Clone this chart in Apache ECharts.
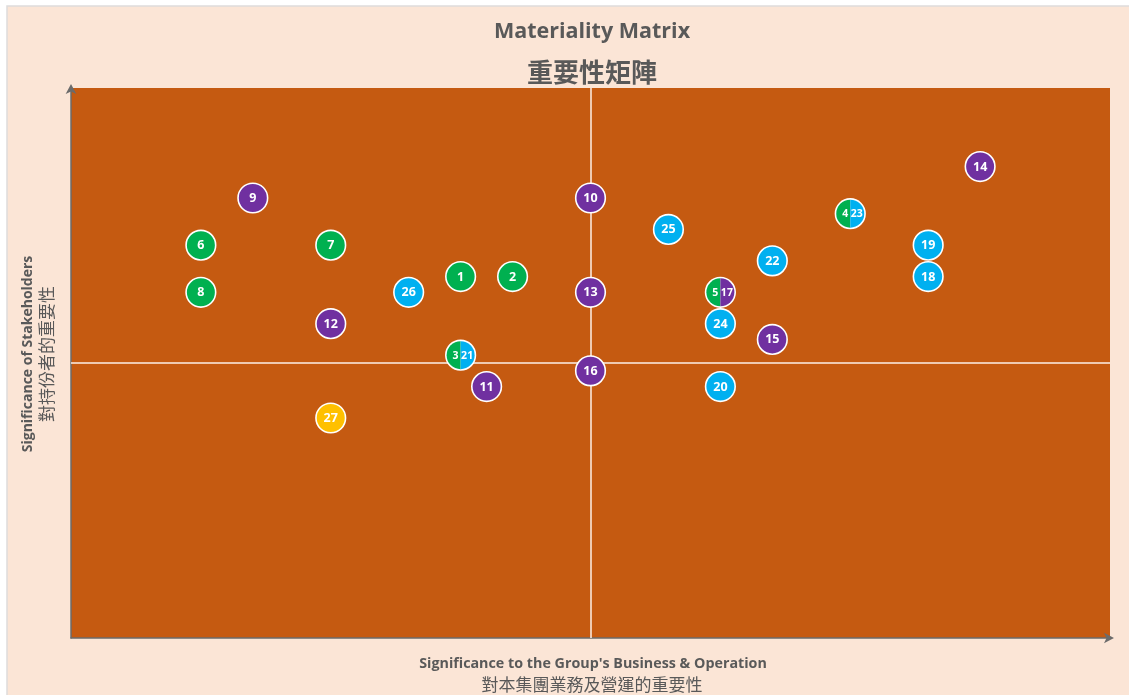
<!DOCTYPE html>
<html>
<head>
<meta charset="utf-8">
<script src="https://cdn.jsdelivr.net/npm/echarts@6/dist/echarts.min.js"></script>
<style>
html,body{margin:0;padding:0;background:#ffffff;}
#main{width:1129px;height:695px;}
</style>
</head>
<body>
<div id="main"></div>
<script>
// Topic labels (one or two topics per bubble)
const labels = ['9','6','7','8','12','27','26','1','2','3|21','11','10','13','16','25','5|17','24','20','22','15','4|23','19','18','14'];
// Significance to the Group's Business & Operation (x)
const xValues = [7,5,10,5,10,10,13,15,17,15,16,20,20,20,23,25,25,25,27,27,30,33,33,35];
// Significance of Stakeholders (y)
const yValues = [28,25,25,22,20,14,22,23,23,18,16,28,22,17,26,22,20,16,24,19,27,25,23,30];
// Category colour per topic (left|right for shared bubbles)
const categories = ['P','G','G','G','P','Y','B','G','G','G|B','P','P','P','P','B','G|P','B','B','B','P','G|B','B','B','P'];

const palette = {G:'#00b050', P:'#7030a0', B:'#00b0f0', Y:'#ffc000'};

const data = xValues.map((x,i)=>[x, yValues[i], labels[i], categories[i]]);

const R = 14.8;
function renderItem(params, api){
  const p = api.coord([api.value(0), api.value(1)]);
  const label = labels[params.dataIndex];
  const cat = categories[params.dataIndex];
  const children = [];
  if (cat.indexOf('|') < 0){
    children.push({type:'circle', shape:{cx:p[0],cy:p[1],r:R},
      style:{fill:palette[cat], stroke:'#ffffff', lineWidth:1.6}});
    children.push({type:'text', style:{x:p[0], y:p[1]+0.5, text:label, fill:'#ffffff',
      font:'bold 12.5px "Open Sans", sans-serif', align:'center', verticalAlign:'middle'}});
  } else {
    const cs = cat.split('|'), ls = label.split('|');
    children.push({type:'circle', shape:{cx:p[0],cy:p[1],r:R},
      style:{fill:'#ffffff', stroke:'#ffffff', lineWidth:1.6}});
    children.push({type:'sector', shape:{cx:p[0],cy:p[1],r0:0,r:R-0.8,startAngle:Math.PI/2,endAngle:Math.PI*3/2},
      style:{fill:palette[cs[0]]}});
    children.push({type:'sector', shape:{cx:p[0],cy:p[1],r0:0,r:R-0.8,startAngle:-Math.PI/2,endAngle:Math.PI/2},
      style:{fill:palette[cs[1]]}});
    children.push({type:'text', style:{x:p[0]-5, y:p[1]+0.5, text:ls[0], fill:'#ffffff',
      font:'bold 10.5px "Open Sans", sans-serif', align:'center', verticalAlign:'middle'}});
    children.push({type:'text', style:{x:p[0]+6.5, y:p[1]+0.5, text:ls[1], fill:'#ffffff',
      font:'bold 10.5px "Open Sans", sans-serif', align:'center', verticalAlign:'middle'}});
  }
  return {type:'group', children};
}

const chart = echarts.init(document.getElementById('main'));
chart.setOption({
  backgroundColor:'#ffffff',
  animation:false,
  title:[
    {text:'Materiality Matrix', left:587, top:16, textAlign:'center',
     textStyle:{fontFamily:'"Open Sans", sans-serif', fontSize:21.5, fontWeight:'bold', color:'#595959'}},
    {text:'重要性矩陣', left:587, top:54, textAlign:'center',
     textStyle:{fontFamily:'"Noto Sans CJK TC", sans-serif', fontSize:26, fontWeight:'bold', color:'#595959'}}
  ],
  graphic:[
    {type:'rect', z:-100, silent:true, shape:{x:7,y:6,width:1130,height:700},
     style:{fill:'#fbe5d6', stroke:'#dedcdc', lineWidth:1.5}},
    {type:'text', silent:true, x:28, y:354, rotation:Math.PI/2,
     style:{text:'Significance of Stakeholders', fill:'#595959', align:'center', verticalAlign:'middle',
       font:'bold 14px "Open Sans", sans-serif'}},
    {type:'text', silent:true, x:47, y:354, rotation:Math.PI/2,
     style:{text:'對持份者的重要性', fill:'#595959', align:'center', verticalAlign:'middle',
       font:'17px "Noto Sans CJK TC", sans-serif'}},
    {type:'text', silent:true, x:593, y:664,
     style:{text:"Significance to the Group's Business & Operation", fill:'#595959', align:'center', verticalAlign:'middle',
       font:'bold 14.3px "Open Sans", sans-serif'}},
    {type:'text', silent:true, x:592, y:685,
     style:{text:'對本集團業務及營運的重要性', fill:'#595959', align:'center', verticalAlign:'middle',
       font:'17px "Noto Sans CJK TC", sans-serif'}}
  ],
  grid:{left:71, right:19, top:88, bottom:57, show:true, backgroundColor:'#c55a11', borderWidth:0},
  xAxis:{type:'value', min:0, max:40, interval:20,
    axisLine:{show:true, onZero:false, symbol:['none','arrow'], symbolSize:[8,10], symbolOffset:[0,4],
      lineStyle:{color:'#6b6b6b', width:1.5}},
    axisTick:{show:false}, axisLabel:{show:false}, splitLine:{show:false}},
  yAxis:{type:'value', min:0, max:35, interval:17.5,
    axisLine:{show:true, onZero:false, symbol:['none','arrow'], symbolSize:[8,10], symbolOffset:[0,4],
      lineStyle:{color:'#6b6b6b', width:1.5}},
    axisTick:{show:false}, axisLabel:{show:false}, splitLine:{show:false}},
  series:[
    {type:'custom', renderItem, data, z:5,
     encode:{x:0, y:1},
     markLine:{silent:true, symbol:'none', label:{show:false},
       lineStyle:{color:'#fdf1e8', width:1.5, type:'solid'},
       data:[{xAxis:20},{yAxis:17.5}]}}
  ]
});
</script>
</body>
</html>
